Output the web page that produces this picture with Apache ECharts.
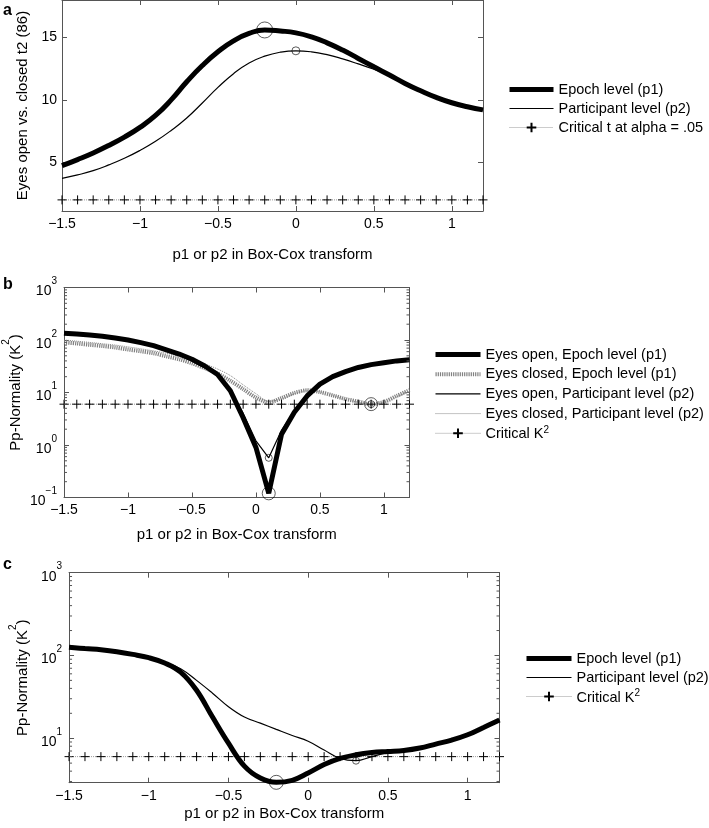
<!DOCTYPE html>
<html><head><meta charset="utf-8">
<script src="https://cdn.jsdelivr.net/npm/echarts@6/dist/echarts.min.js"></script>
<style>html,body{margin:0;padding:0;background:#fff}#c{width:709px;height:828px}</style>
</head><body><div id="c"></div>
<script>
// ---------- data ----------
const xValues = [-1.5,-1.4,-1.3,-1.2,-1.1,-1.0,-0.9,-0.8,-0.7,-0.6,-0.5,-0.4,-0.3,-0.2,-0.1,0,0.1,0.2,0.3,0.4,0.5,0.6,0.7,0.8,0.9,1.0,1.1,1.2];
const xTicks = [-1.5,-1,-0.5,0,0.5,1];
const yTicksA = [5,10,15];

// panel a: t2 values
const aEpoch = [4.73,5.22,5.75,6.35,7.02,7.8,8.75,10.0,11.45,12.75,13.85,14.73,15.32,15.6,15.52,15.37,15.05,14.57,13.99,13.32,12.65,11.99,11.32,10.73,10.2,9.77,9.45,9.2];
const aParticipant = [3.72,3.99,4.33,4.79,5.32,5.95,6.68,7.55,8.55,9.75,11.0,12.1,12.95,13.5,13.82,13.93,13.85,13.62,13.28,12.88,12.45,11.97,11.32,10.73,10.2,9.77,9.45,9.2];
const aCritical = 1.99;
const aMarkEpoch = [-0.2, 15.6];
const aMarkParticipant = [0, 13.93];

// panel b: K2 values
const bOpenEpoch = [135,130,125,118,109,100,89,78,65,54,43,32,22,10.8,3.3,0.9,0.12,1.6,4.2,8.6,14.4,20,25,30,34,37,40,42];
const bClosedEpoch = [90,86,81,77,72,66,61,56,49,43,36,29,23,16.7,11.6,8.0,6.5,7.8,9.8,11.0,10.2,8.8,7.5,6.7,6.0,6.6,8.6,11.1];
const bOpenParticipant = [135,130,125,118,109,100,89,78,65,54,43,32,22,11,4.0,1.2,0.57,1.9,4.5,8.8,14,19.5,24.5,29.5,33.5,36.5,39.5,41.5];
const bClosedParticipant = [100,95,90,85,80,74,68,62,56,49,42,35,28,21,14,9.5,6.8,7.5,9.5,10.8,10.3,8.8,7.4,6.5,6.0,6.5,8.3,10.5];
const kCritical = 5.99;
const bMarksBig = [[0.1, 0.12],[0.9, 6.0]];
const bMarksSmall = [[0.1, 0.57],[0.9, 6.0]];

// panel c: K2 values
const cEpoch = [126,121,117,111,103,94,81,63,38,18,8.7,4.6,3.3,2.93,3.1,3.8,4.8,5.7,6.3,6.7,6.9,7.1,7.6,8.5,9.5,11,13.5,16.6];
const cParticipant = [126,121,117,111,103,94,83,69,50,35,24,18,15.2,12.8,10.8,9.2,7.2,5.7,5.35,6.0,6.7,7.1,7.6,8.5,9.5,11,13.5,16.6];
const cMarkEpoch = [-0.2, 2.93];
const cMarkParticipant = [0.3, 5.35];

// ---------- styling ----------
const FONT = 'Liberation Sans, Arial, Helvetica, sans-serif';
const AXC = '#555';
const X_MIN = -1.5, X_MAX = 1.2;
const plusPath = 'path://M0,5H10M5,0V10';

const pair = arr => arr.map((v, i) => [xValues[i], v]);
const minus = s => String(s).replace('-', '\u2212');
const supRich = {
  b: {fontSize: 14, fontFamily: FONT, color: '#000', lineHeight: 22, verticalAlign: 'bottom'},
  s: {fontSize: 10, fontFamily: FONT, color: '#000', lineHeight: 22, verticalAlign: 'top'},
  n: {fontSize: 15, fontFamily: FONT, color: '#000', lineHeight: 22, verticalAlign: 'bottom'}
};
const legendRich = {
  n: {fontSize: 14.5, fontFamily: FONT, color: '#000', lineHeight: 17, verticalAlign: 'bottom'},
  s: {fontSize: 10, fontFamily: FONT, color: '#000', lineHeight: 17, verticalAlign: 'top'}
};
function logLabel(v) {
  const e = Math.log10(v), r = Math.round(e);
  if (Math.abs(e - r) > 1e-6) return '';
  return '{b|10}{s|' + minus(r) + '}';
}

const grids = [
  {left: 62, top: 0, width: 421, height: 211},
  {left: 62, top: 287.5, width: 347.5, height: 210},
  {left: 61.5, top: 572.7, width: 438, height: 210}
];

function xBottom(g, gap) {
  return {type: 'value', gridIndex: g, min: X_MIN, max: X_MAX, position: 'bottom',
    name: 'p1 or p2 in Box-Cox transform', nameLocation: 'middle', nameGap: gap,
    nameTextStyle: {fontSize: 15, fontFamily: FONT, color: '#000'},
    axisLine: {show: true, onZero: false, lineStyle: {color: AXC}},
    axisTick: {show: true, inside: true, length: 5, customValues: xTicks, lineStyle: {color: AXC}},
    axisLabel: {customValues: xTicks, formatter: v => minus(v), fontSize: 14, fontFamily: FONT, color: '#000', margin: 6},
    splitLine: {show: false}};
}
function xTop(g) {
  return {type: 'value', gridIndex: g, min: X_MIN, max: X_MAX, position: 'top',
    axisLine: {show: true, onZero: false, lineStyle: {color: AXC}},
    axisTick: {show: true, inside: true, length: 5, customValues: xTicks, lineStyle: {color: AXC}},
    axisLabel: {show: false}, splitLine: {show: false}};
}
function yLog(g, min, pos, name, gap) {
  const o = {type: 'log', logBase: 10, gridIndex: g, min: min, max: 1000, position: pos,
    axisLine: {show: true, onZero: false, lineStyle: {color: AXC}},
    axisTick: {show: true, inside: true, length: 5, lineStyle: {color: AXC}},
    axisLabel: {show: pos === 'left', formatter: logLabel, rich: supRich, margin: 7},
    splitLine: {show: false}};
  if (name) {
    o.name = name; o.nameLocation = 'middle'; o.nameGap = gap; o.nameRotate = 90;
    o.nameTextStyle = {fontSize: 15, fontFamily: FONT, color: '#000', rich: supRich};
  }
  return o;
}
function yLin(g, pos, name, gap) {
  const o = {type: 'value', gridIndex: g, min: 1.1, max: 18, position: pos,
    axisLine: {show: true, onZero: false, lineStyle: {color: AXC}},
    axisTick: {show: true, inside: true, length: 5, customValues: yTicksA, lineStyle: {color: AXC}},
    axisLabel: {show: pos === 'left', customValues: yTicksA, fontSize: 14, fontFamily: FONT, color: '#000', margin: 5},
    splitLine: {show: false}};
  if (name) {
    o.name = name; o.nameLocation = 'middle'; o.nameGap = gap; o.nameRotate = 90;
    o.nameTextStyle = {fontSize: 15, fontFamily: FONT, color: '#000'};
  }
  return o;
}

function line(name, xi, data, width, color, type, smooth) {
  return {type: 'line', name: name, xAxisIndex: xi, yAxisIndex: xi, data: data,
    symbol: 'none', smooth: smooth, silent: true,
    lineStyle: {width: width, color: color, type: type || 'solid', cap: 'butt'},
    itemStyle: {color: color}};
}
function critical(name, xi, value) {
  return {type: 'line', name: name, xAxisIndex: xi, yAxisIndex: xi,
    data: xValues.map(x => [x, value]), symbol: plusPath, symbolSize: 9, showAllSymbol: true,
    silent: true, lineStyle: {width: 1, color: '#999', type: 'dotted'},
    itemStyle: {color: '#000', borderColor: '#000', borderWidth: 1}};
}
function marks(xi, pts, size) {
  return {type: 'scatter', xAxisIndex: xi, yAxisIndex: xi, data: pts, symbol: 'circle', symbolSize: size,
    silent: true, z: 5, itemStyle: {color: 'rgba(0,0,0,0)', borderColor: '#000', borderWidth: 0.8}};
}
function minorTicks(xi, minV) {
  const vals = [];
  for (let e = -1; e < 3; e++) for (let m = 2; m <= 9; m++) {
    const v = m * Math.pow(10, e);
    if (v > minV && v < 1000) vals.push([X_MIN, v]);
  }
  return {type: 'custom', xAxisIndex: xi, yAxisIndex: xi, data: vals, silent: true, clip: false, z: 6,
    encode: {x: 0, y: 1},
    renderItem: (params, api) => {
      const v = api.value(1);
      const p1 = api.coord([X_MIN, v]), p2 = api.coord([X_MAX, v]);
      const st = {stroke: AXC, lineWidth: 1};
      return {type: 'group', children: [
        {type: 'line', shape: {x1: p1[0], y1: p1[1], x2: p1[0] + 3, y2: p1[1]}, style: st},
        {type: 'line', shape: {x1: p2[0] - 3, y1: p2[1], x2: p2[0], y2: p2[1]}, style: st}
      ]};
    }};
}

const legendText = {fontSize: 14.5, fontFamily: FONT, color: '#000', lineHeight: 17, rich: legendRich};
const legendFmt = n => n.indexOf('\u00b2') >= 0 ? '{n|' + n.replace('\u00b2', '') + '}{s|2}' : n;
const noSym = {color: 'rgba(0,0,0,0)', borderColor: 'rgba(0,0,0,0)', borderWidth: 0};
const lgThick = {lineStyle: {width: 5, color: '#000', type: 'solid'}, itemStyle: noSym};
const lgThin = {lineStyle: {width: 1.2, color: '#000', type: 'solid'}, itemStyle: noSym};
const lgCrit = {lineStyle: {width: 1, color: '#999', type: 'dotted'}};
const legendBase = {orient: 'vertical', itemHeight: 12, padding: 0, selectedMode: false,
  textStyle: legendText, formatter: legendFmt};
const GRAY_THICK = {width: 4, color: '#808080', type: [1.2, 1]};

const option = {
  animation: false,
  backgroundColor: '#fff',
  title: [
    {text: 'a', left: 3, top: 3, padding: 0, textStyle: {fontSize: 16, fontWeight: 'bold', fontFamily: FONT, color: '#000'}},
    {text: 'b', left: 3, top: 277, padding: 0, textStyle: {fontSize: 16, fontWeight: 'bold', fontFamily: FONT, color: '#000'}},
    {text: 'c', left: 3, top: 557, padding: 0, textStyle: {fontSize: 16, fontWeight: 'bold', fontFamily: FONT, color: '#000'}}
  ],
  grid: grids,
  xAxis: [xBottom(0, 36), xTop(0), xBottom(1, 30), xTop(1), xBottom(2, 24), xTop(2)],
  yAxis: [
    yLin(0, 'left', 'Eyes open vs. closed t2 (86)', 26), yLin(0, 'right'),
    yLog(1, 0.1, 'left', '{n|Pp-Normality (K}{s|2}{n|)}', 41), yLog(1, 0.1, 'right'),
    yLog(2, 2.9, 'left', '{n|Pp-Normality (K}{s|2}{n|)}', 33), yLog(2, 2.9, 'right')
  ],
  legend: [
    Object.assign({}, legendBase, {left: 507, top: 81, itemWidth: 44, itemGap: 2,
      data: [Object.assign({name: 'Epoch level (p1)'}, lgThick), Object.assign({name: 'Participant level (p2)'}, lgThin),
             Object.assign({name: 'Critical t at alpha = .05'}, lgCrit)]}),
    Object.assign({}, legendBase, {left: 433, top: 346, itemWidth: 45, itemGap: 2.7,
      data: [Object.assign({name: 'Eyes open, Epoch level (p1)'}, lgThick),
             {name: 'Eyes closed, Epoch level (p1)', lineStyle: GRAY_THICK, itemStyle: noSym},
             Object.assign({name: 'Eyes open, Participant level (p2)'}, lgThin),
             {name: 'Eyes closed, Participant level (p2)', lineStyle: {width: 1, color: '#888', type: 'dotted'}, itemStyle: noSym},
             Object.assign({name: 'Critical K\u00b2'}, lgCrit)]}),
    Object.assign({}, legendBase, {left: 524, top: 650, itemWidth: 45, itemGap: 2,
      data: [Object.assign({name: 'Epoch level (p1)'}, lgThick), Object.assign({name: 'Participant level (p2)'}, lgThin),
             Object.assign({name: 'Critical K\u00b2'}, lgCrit)]})
  ],
  series: [
    // panel a
    critical('Critical t at alpha = .05', 0, aCritical),
    line('Epoch level (p1)', 0, pair(aEpoch), 5, '#000', 'solid', 0.5),
    line('Participant level (p2)', 0, pair(aParticipant), 1.2, '#000', 'solid', 0.5),
    marks(0, [aMarkEpoch], 16), marks(0, [aMarkParticipant], 8),
    // panel b
    critical('Critical K\u00b2', 2, kCritical),
    line('Eyes closed, Epoch level (p1)', 2, pair(bClosedEpoch), GRAY_THICK.width, GRAY_THICK.color, GRAY_THICK.type, 0.3),
    line('Eyes closed, Participant level (p2)', 2, pair(bClosedParticipant), 1, '#888', 'dotted', 0.3),
    line('Eyes open, Epoch level (p1)', 2, pair(bOpenEpoch), 5, '#000', 'solid', false),
    line('Eyes open, Participant level (p2)', 2, pair(bOpenParticipant), 1.2, '#000', 'solid', false),
    marks(2, bMarksBig, 13), marks(2, bMarksSmall, 7),
    minorTicks(2, 0.1),
    // panel c
    critical('Critical K\u00b2', 4, kCritical),
    line('Epoch level (p1)', 4, pair(cEpoch), 5, '#000', 'solid', 0.4),
    line('Participant level (p2)', 4, pair(cParticipant), 1.2, '#000', 'solid', 0.4),
    marks(4, [cMarkEpoch], 14), marks(4, [cMarkParticipant], 7),
    minorTicks(4, 2.9)
  ]
};
const chart = echarts.init(document.getElementById('c'), null, {renderer: 'canvas'});
chart.setOption(option);
</script></body></html>
